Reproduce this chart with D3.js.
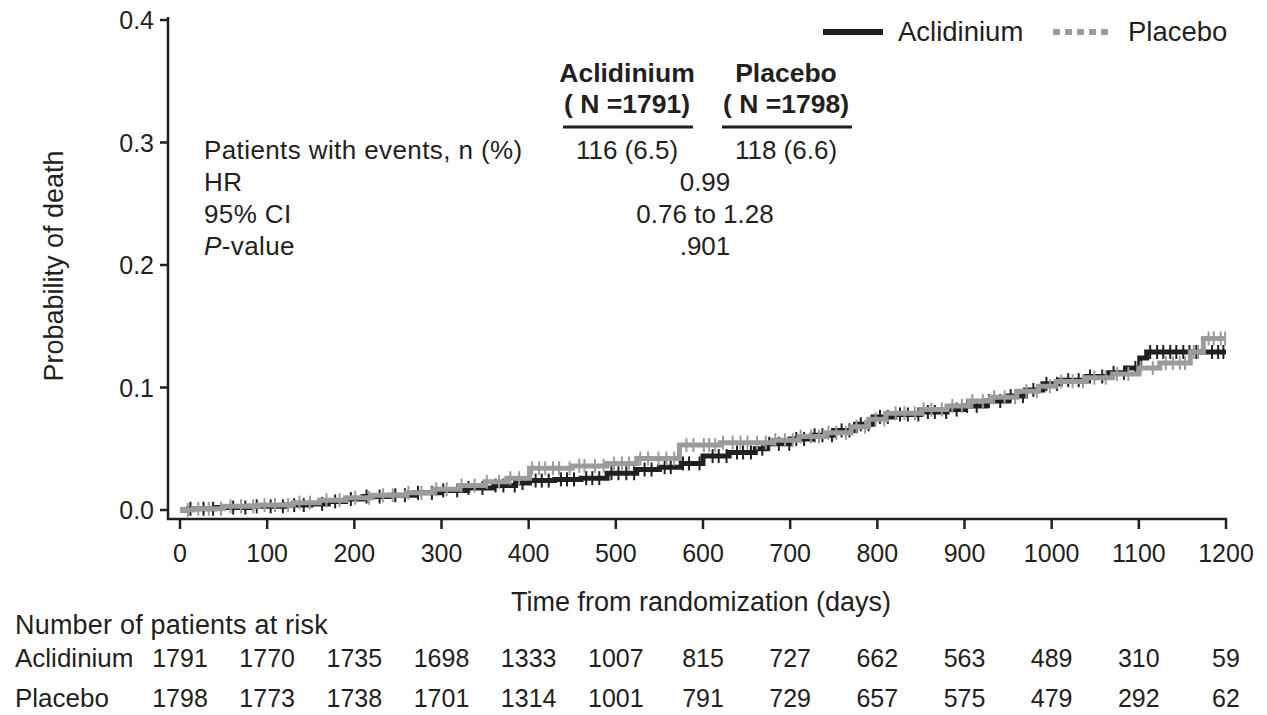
<!DOCTYPE html>
<html>
<head>
<meta charset="utf-8">
<script src="https://cdn.jsdelivr.net/npm/d3@7"></script>
<style>
  body { margin: 0; background: #fff; }
  svg text { font-family: "Liberation Sans", Arial, sans-serif; fill: #231f20; }
</style>
</head>
<body>
<div id="wrapper"></div>
<script>
// step points [day, cumulative probability of death]
const aclSteps = [[0,0],[10,0.001],[40,0.002],[80,0.003],[120,0.004],[150,0.005],[170,0.007],[190,0.009],
  [210,0.011],[240,0.012],[270,0.014],[300,0.016],[330,0.018],[360,0.020],[385,0.022],[401,0.024],
  [430,0.025],[460,0.026],[490,0.030],[524,0.033],[550,0.035],[575,0.038],[600,0.044],[630,0.047],
  [660,0.050],[673,0.054],[700,0.058],[725,0.061],[750,0.065],[775,0.070],[795,0.076],[820,0.078],
  [850,0.080],[880,0.082],[900,0.085],[925,0.089],[950,0.093],[970,0.098],[990,0.103],[1010,0.106],
  [1040,0.109],[1065,0.112],[1085,0.116],[1101,0.124],[1109,0.129]];
const placSteps = [[0,0],[15,0.001],[50,0.003],[90,0.004],[130,0.006],[160,0.008],[190,0.010],[220,0.012],
  [260,0.014],[290,0.017],[320,0.020],[350,0.023],[375,0.026],[401,0.034],[450,0.036],[490,0.038],
  [524,0.042],[573,0.053],[620,0.055],[680,0.057],[710,0.060],[740,0.063],[770,0.068],[790,0.074],
  [810,0.079],[850,0.082],[880,0.085],[905,0.089],[930,0.092],[960,0.097],[985,0.101],[1005,0.105],
  [1040,0.108],[1070,0.111],[1100,0.116],[1124,0.120],[1159,0.129],[1174,0.140]];

// censored days (tick marks)
const aclCensor = [12,27,38,61,75,88,104,118,131,142,163,178,196,214,229,247,258,273,289,302,318,331,347,362,
  371,384,393,408,415,423,437,444,452,466,473,481,495,503,512,521,533,541,556,563,577,584,596,611,618,627,
  639,646,655,668,676,687,699,707,716,728,737,748,759,768,781,790,803,812,826,835,847,858,866,879,891,903,
  914,928,941,953,967,979,994,1006,1019,1031,1044,1058,1071,1083,1096,1113,1121,1128,1136,1143,1151,1158,
  1166,1184,1191,1197];
const placCensor = [9,21,33,47,58,70,84,97,109,124,137,149,168,183,201,217,233,244,262,277,294,306,323,338,
  352,366,379,389,404,412,419,428,435,447,458,464,476,486,498,507,515,528,537,549,558,567,581,589,601,607,
  614,623,634,643,651,662,672,683,694,703,712,724,733,744,753,764,776,786,798,808,821,831,843,853,862,874,
  886,897,909,921,934,946,958,971,983,998,1011,1024,1036,1049,1062,1075,1088,1102,1116,1131,1139,1147,1153,
  1163,1168,1180,1186,1194,1199];

const xTicks = [0,100,200,300,400,500,600,700,800,900,1000,1100,1200];
const yTicks = [0,0.1,0.2,0.3,0.4];
const aclAtRisk = [1791,1770,1735,1698,1333,1007,815,727,662,563,489,310,59];
const placAtRisk = [1798,1773,1738,1701,1314,1001,791,729,657,575,479,292,62];

const statRows = ["Patients with events, n (%)", "HR", "95% CI", "P-value"];
const aclStats = ["116 (6.5)"];
const placStats = ["118 (6.6)"];
const sharedStats = ["0.99", "0.76 to 1.28", ".901"];

const dark = "#231f20";
const grey = "#9b9b9b";

const width = 1267, height = 715;
const svg = d3.select("#wrapper").append("svg")
  .attr("width", width).attr("height", height);

const x = d3.scaleLinear().domain([0, 1200]).range([180, 1226]);
const y = d3.scaleLinear().domain([0, 0.4]).range([510, 20]);
const axisY = 519, axisX = 168;

// axes
svg.append("line").attr("x1", axisX).attr("x2", axisX).attr("y1", 17).attr("y2", axisY + 1)
  .attr("stroke", dark).attr("stroke-width", 2.5);
svg.append("line").attr("x1", axisX - 1).attr("x2", x(1200) + 1).attr("y1", axisY).attr("y2", axisY)
  .attr("stroke", dark).attr("stroke-width", 2.5);

svg.selectAll(".ytick").data(yTicks).enter().append("line")
  .attr("x1", axisX - 8).attr("x2", axisX).attr("y1", d => y(d)).attr("y2", d => y(d))
  .attr("stroke", dark).attr("stroke-width", 2.5);
svg.selectAll(".ylab").data(yTicks).enter().append("text")
  .attr("x", 154).attr("y", d => y(d) + 9).attr("text-anchor", "end")
  .style("font-size", "25px").text(d => d3.format(".1f")(d));

svg.selectAll(".xtick").data(xTicks).enter().append("line")
  .attr("x1", d => x(d)).attr("x2", d => x(d)).attr("y1", axisY).attr("y2", axisY + 10)
  .attr("stroke", dark).attr("stroke-width", 2.5);
svg.selectAll(".xlab").data(xTicks).enter().append("text")
  .attr("x", d => x(d)).attr("y", 562).attr("text-anchor", "middle")
  .style("font-size", "25px").text(d => d);

svg.append("text").attr("x", x(600) - 2).attr("y", 611).attr("text-anchor", "middle")
  .style("font-size", "27px").text("Time from randomization (days)");
svg.append("text").attr("transform", "translate(63,266) rotate(-90)").attr("text-anchor", "middle")
  .style("font-size", "27px").text("Probability of death");

// KM curves
function stepValue(steps, d) {
  const i = d3.bisector(s => s[0]).right(steps, d) - 1;
  return steps[Math.max(0, i)][1];
}
const line = d3.line().x(d => x(d[0])).y(d => y(d[1])).curve(d3.curveStepAfter);

function drawCurve(steps, censor, color, end) {
  const pts = steps.concat([[end, steps[steps.length - 1][1]]]);
  svg.append("path").datum(pts).attr("d", line)
    .attr("fill", "none").attr("stroke", color).attr("stroke-width", 5);
  svg.append("g").selectAll("line").data(censor).enter().append("line")
    .attr("x1", d => x(d)).attr("x2", d => x(d))
    .attr("y1", d => y(stepValue(steps, d)) - 7).attr("y2", d => y(stepValue(steps, d)) + 7)
    .attr("stroke", color).attr("stroke-width", 2);
}
drawCurve(aclSteps, aclCensor, dark, 1200);
drawCurve(placSteps, placCensor, grey, 1200);

// legend
svg.append("line").attr("x1", 823).attr("x2", 883).attr("y1", 32).attr("y2", 32)
  .attr("stroke", dark).attr("stroke-width", 6);
svg.append("text").attr("x", 898).attr("y", 41).style("font-size", "27.5px").text("Aclidinium");
svg.append("line").attr("x1", 1053).attr("x2", 1113).attr("y1", 32).attr("y2", 32)
  .attr("stroke", grey).attr("stroke-width", 6).attr("stroke-dasharray", "7,5");
svg.append("text").attr("x", 1128).attr("y", 41).style("font-size", "27.5px").text("Placebo");

// inset stats table
const colA = 627, colP = 786, colMid = 705;
[["Aclidinium", "( N =1791)", colA, 563, 693], ["Placebo", "( N =1798)", colP, 722, 852]].forEach(h => {
  svg.append("text").attr("x", h[2]).attr("y", 82).attr("text-anchor", "middle")
    .style("font-size", "26.5px").style("font-weight", "bold").text(h[0]);
  svg.append("text").attr("x", h[2]).attr("y", 113).attr("text-anchor", "middle")
    .style("font-size", "26.5px").style("font-weight", "bold").text(h[1]);
  svg.append("line").attr("x1", h[3]).attr("x2", h[4]).attr("y1", 127).attr("y2", 127)
    .attr("stroke", dark).attr("stroke-width", 3);
});
const rowY = [159, 191, 223, 255];
statRows.forEach((r, i) => {
  const t = svg.append("text").attr("x", 204).attr("y", rowY[i])
    .style("font-size", "26px").style("letter-spacing", "0.4px");
  if (r === "P-value") {
    t.append("tspan").style("font-style", "italic").text("P");
    t.append("tspan").text("-value");
  } else t.text(r);
});
svg.append("text").attr("x", colA).attr("y", rowY[0]).attr("text-anchor", "middle").style("font-size", "26px").text(aclStats[0]);
svg.append("text").attr("x", colP).attr("y", rowY[0]).attr("text-anchor", "middle").style("font-size", "26px").text(placStats[0]);
sharedStats.forEach((s, i) => {
  svg.append("text").attr("x", colMid).attr("y", rowY[i + 1]).attr("text-anchor", "middle")
    .style("font-size", "26px").text(s);
});

// numbers at risk
svg.append("text").attr("x", 15).attr("y", 634).style("font-size", "27px")
  .style("letter-spacing", "0.2px").text("Number of patients at risk");
[["Aclidinium", aclAtRisk, 667], ["Placebo", placAtRisk, 707]].forEach(r => {
  svg.append("text").attr("x", 15).attr("y", r[2]).style("font-size", "26px").text(r[0]);
  svg.append("g").selectAll("text").data(r[1]).enter().append("text")
    .attr("x", (d, i) => x(xTicks[i])).attr("y", r[2]).attr("text-anchor", "middle")
    .style("font-size", "25px").text(d => d);
});
</script>
</body>
</html>
